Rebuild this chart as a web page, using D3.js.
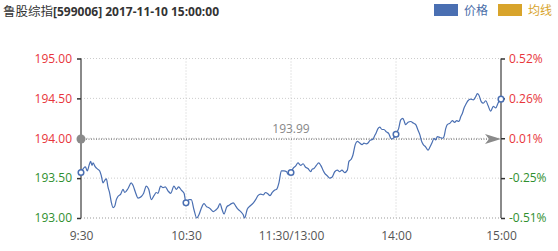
<!DOCTYPE html>
<html><head><meta charset="utf-8">
<script src="https://cdn.jsdelivr.net/npm/d3@7"></script>
<style>body{margin:0;background:#fff}svg{display:block}</style>
</head><body><svg id="c" width="558" height="251"></svg>
<script>
const titleName = "鲁股综指";
const titleRest = "[599006] 2017-11-10 15:00:00";
const legendLabels = ["价格", "均线"];
const prevClose = 193.99;
const yTicks = [193.00, 193.50, 194.00, 194.50, 195.00];
const xTickMinutes = [0, 60, 120, 180, 240];
const xTickLabels = ["9:30", "10:30", "11:30/13:00", "14:00", "15:00"];
const markerMinutes = [0, 60, 120, 180, 240];
const minutes = [0,2.5,3.6,4.6,5.5,6.3,6.9,8.2,9.7,10.7,11.6,12.6,13.5,14.5,15.4,16.4,17.3,18.3,19.3,20.2,21.1,22.7,24,25,26.9,28.7,29.7,31,32.6,34.5,35.8,37.3,38.7,40.2,41.7,43,44,45.5,46.9,48.2,49.7,51.3,53.1,54.5,55.8,57.3,58.9,60,61.7,63,64.6,66.1,67.4,68.7,70.3,71.8,73.1,74.1,75.6,77,78.3,79.4,80.7,81.7,83.3,84.6,85.9,87,88.4,89.7,91.3,92.7,93.5,95,96.6,98.5,99.8,101.1,102.7,104.2,105.5,106.9,108,109.3,110.7,111.8,113.1,114.5,116,117.5,118.3,120,121.1,122.6,124,125.5,126.9,128.2,129.7,131.3,132,133.1,134.5,135.8,137,138.3,139.3,140.7,142.1,143.4,145,146.5,147.8,149.1,150.7,152.2,153.1,154.5,155.4,156.7,157.9,159.3,160.6,161.7,163,164,165,165.9,166.9,167.8,168.7,169.7,170.7,172,173.1,174.5,175.8,177,177.7,178.9,179.6,180,181.5,182.7,183.9,184.6,185.5,186.9,188.4,189.9,191.3,192.6,193.7,194.5,195.6,197,198.3,199.4,200.7,201.7,202.7,203.6,205.1,206.5,207.4,208.4,209.3,210.9,212.2,213.5,214.7,216,217,217.9,218.9,219.8,221.1,222.7,224.2,225.5,226.5,227.4,228.7,229.9,231.3,232.6,234.1,235.6,237,238.3,239.4,240];
const prices = [193.57,193.64,193.59,193.66,193.71,193.66,193.69,193.64,193.61,193.59,193.53,193.44,193.47,193.49,193.39,193.31,193.20,193.13,193.15,193.23,193.27,193.30,193.36,193.32,193.37,193.44,193.41,193.33,193.25,193.27,193.31,193.40,193.36,193.23,193.28,193.32,193.31,193.40,193.38,193.39,193.34,193.31,193.40,193.36,193.39,193.35,193.31,193.19,193.23,193.23,193.10,193.00,193.04,193.12,193.18,193.14,193.13,193.11,193.08,193.10,193.13,193.18,193.10,193.05,193.14,193.16,193.18,193.19,193.15,193.11,193.08,193.04,193.00,193.11,193.15,193.19,193.23,193.28,193.30,193.29,193.32,193.30,193.28,193.32,193.35,193.36,193.44,193.59,193.59,193.58,193.55,193.57,193.62,193.65,193.69,193.66,193.68,193.64,193.62,193.58,193.61,193.62,193.66,193.69,193.66,193.60,193.56,193.53,193.50,193.51,193.58,193.60,193.58,193.60,193.57,193.60,193.71,193.74,193.79,193.92,193.96,193.94,193.92,193.94,193.93,193.94,193.97,193.98,193.99,194.03,194.07,194.12,194.14,194.11,194.11,194.08,194.06,194.00,193.99,194.01,194.02,194.05,194.12,194.23,194.25,194.22,194.17,194.20,194.21,194.19,194.17,194.10,194.04,193.97,193.92,193.89,193.85,193.89,193.95,194.00,193.98,194.02,194.01,194.00,194.02,194.12,194.17,194.19,194.22,194.20,194.22,194.21,194.27,194.31,194.38,194.42,194.47,194.49,194.48,194.52,194.56,194.54,194.46,194.44,194.47,194.41,194.34,194.40,194.38,194.44,194.48,194.49];

const svg = d3.select("#c");
const L = 81, R = 501, T = 58.5, B = 218;
const x = d3.scaleLinear().domain([0, 240]).range([L, R]);
const y = d3.scaleLinear().domain([193, 195]).range([B, T]);
const red = "#e8353b", green = "#2f8f2f", blue = "#4a6fb2", gold = "#d8a42b";
const font = "'Open Sans', 'Noto Sans CJK SC', sans-serif";
const pct = v => ((v - prevClose) / prevClose * 100).toFixed(2) + "%";
const col = v => v >= prevClose ? red : green;

// title
const t = svg.append("text").attr("x", 3).attr("y", 16).attr("font-size", 12).attr("fill", "#333").attr("font-family", font);
t.append("tspan").attr("font-family", "'Noto Sans CJK SC', sans-serif").attr("font-size", 12.5).text(titleName);
t.append("tspan").attr("font-weight", "bold").text(titleRest);

// legend
const lg = [{c: blue, tc: "#4a6da8", x: 434}, {c: gold, tc: gold, x: 498}];
lg.forEach((d, i) => {
  svg.append("rect").attr("x", d.x).attr("y", 4).attr("width", 24).attr("height", 12).attr("fill", d.c);
  svg.append("text").attr("x", d.x + 30).attr("y", 15).attr("font-size", 12).attr("fill", d.tc)
    .attr("font-family", "'Noto Sans CJK SC', sans-serif").text(legendLabels[i]);
});

// horizontal grid
svg.append("g").selectAll("line").data(yTicks).join("line")
  .attr("x1", L).attr("x2", R).attr("y1", d => y(d)).attr("y2", d => y(d))
  .attr("stroke", d => d === 193 ? "#999" : "#ccc").attr("stroke-dasharray", "1,2").attr("stroke-width", 1);
// vertical grid
svg.append("g").selectAll("line").data(xTickMinutes.slice(1, -1)).join("line")
  .attr("x1", d => x(d)).attr("x2", d => x(d)).attr("y1", T).attr("y2", B)
  .attr("stroke", "#ccc").attr("stroke-dasharray", "1,2");

// prev close reference line
svg.append("line").attr("x1", L).attr("x2", R - 12).attr("y1", y(prevClose)).attr("y2", y(prevClose))
  .attr("stroke", "#777").attr("stroke-dasharray", "1,1.5").attr("stroke-width", 1.2);
svg.append("text").attr("x", x(120)).attr("y", y(prevClose) - 6).attr("text-anchor", "middle")
  .attr("font-size", 12).attr("fill", "#888").attr("font-family", font).text(prevClose.toFixed(2));

// axes
const leftAxis = d3.axisLeft(y).tickValues(yTicks).tickSize(4).tickFormat(d => d.toFixed(2));
const gl = svg.append("g").attr("transform", `translate(${L},0)`).call(leftAxis);
const rightAxis = d3.axisRight(y).tickValues(yTicks).tickSize(4).tickFormat(pct);
const gr = svg.append("g").attr("transform", `translate(${R},0)`).call(rightAxis);
[gl, gr].forEach(g => {
  g.select(".domain").attr("stroke", "#8a8a8a").attr("stroke-width", 2).attr("d", `M0,${T}V${B}`);
  g.selectAll(".tick line").attr("stroke", "#333").attr("stroke-width", 1.5);
  g.selectAll(".tick text").attr("font-size", 12).attr("font-family", font).attr("fill", d => col(d));
});
gl.selectAll(".tick text").attr("x", -9);
gr.selectAll(".tick text").attr("x", 8);

const xAxis = d3.axisBottom(x).tickValues(xTickMinutes).tickSize(0).tickFormat((d, i) => xTickLabels[i]);
const gx = svg.append("g").attr("transform", `translate(0,${B})`).call(xAxis);
gx.select(".domain").remove();
gx.selectAll(".tick text").attr("font-size", 12).attr("font-family", font).attr("fill", "#555").attr("y", 22).attr("dy", 0);

// price line
const pts = minutes.map((m, i) => [m, prices[i]]);
svg.append("path").datum(pts).attr("fill", "none").attr("stroke", blue).attr("stroke-width", 1.2)
  .attr("d", d3.line().x(d => x(d[0])).y(d => y(d[1])).curve(d3.curveMonotoneX));

// markers
const mk = markerMinutes.map(m => pts.find(p => p[0] === m));
svg.append("g").selectAll("circle").data(mk).join("circle")
  .attr("cx", d => x(d[0])).attr("cy", d => y(d[1])).attr("r", 2.8)
  .attr("fill", "#fff").attr("stroke", blue).attr("stroke-width", 1.5);

// prev-close start dot and arrow
svg.append("circle").attr("cx", L).attr("cy", y(prevClose)).attr("r", 4.5).attr("fill", "#8a8a8a");
const ay = y(prevClose);
svg.append("path").attr("fill", "#8a8a8a")
  .attr("d", `M${R - 16},${ay - 5}L${R},${ay}L${R - 16},${ay + 5}L${R - 12},${ay}Z`);
</script></body></html>
